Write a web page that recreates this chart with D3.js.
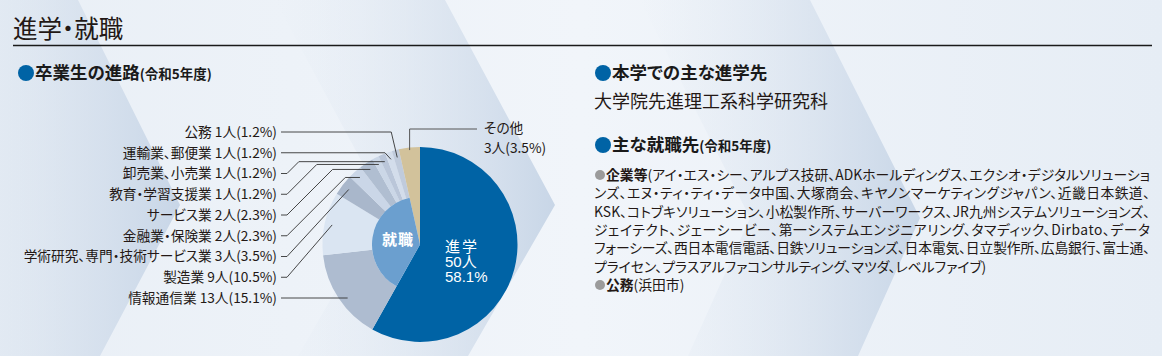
<!DOCTYPE html>
<html><head><meta charset="utf-8">
<script src="https://cdn.jsdelivr.net/npm/d3@7"></script>
<style>
html,body{margin:0;padding:0;background:#eef2f8;}
svg{display:block;}
text{font-family:"Noto Sans CJK JP",sans-serif;font-feature-settings:"palt";}
</style></head><body>
<svg id="c" width="1162" height="356"></svg>
<script>
// ---- data ----
const categories = ["進学","情報通信業","製造業","学術研究、専門・技術サービス業","金融業・保険業","サービス業","教育・学習支援業","卸売業、小売業","運輸業、郵便業","公務","その他"];
const counts = [50,13,9,3,2,2,1,1,1,1,3];
const percents = ["58.1","15.1","10.5","3.5","2.3","2.3","1.2","1.2","1.2","1.2","3.5"];
const groups = ["進学","就職","就職","就職","就職","就職","就職","就職","就職","就職","その他"];
const companyLines = [
 "(アイ・エス・シー、アルプス技研、ADKホールディングス、エクシオ・デジタルソリューショ",
 "ンズ、エヌ・ティ・ティ・データ中国、大塚商会、キヤノンマーケティングジャパン、近畿日本鉄道、",
 "KSK、コトブキソリューション、小松製作所、サーバーワークス、JR九州システムソリューションズ、",
 "ジェイテクト、ジェーシービー、第一システムエンジニアリング、タマディック、Dirbato、データ",
 "フォーシーズ、西日本電信電話、日鉄ソリューションズ、日本電気、日立製作所、広島銀行、富士通、",
 "プライセン、プラスアルファコンサルティング、マツダ、レベルファイブ)"
];
const sliceColors = ["#0063a5","#aebcd0","#dae5f2","#a9b7cb","#cad6e7","#b0bed1","#cbd7e7","#bac6d9","#d3ddeb","#c0cbdc","#d2c29b"];

const data = categories.map((c,i)=>({name:c,count:counts[i],pct:percents[i],group:groups[i],color:sliceColors[i]}));

const svg = d3.select("#c");
const defs = svg.append("defs");

// ---- background ----
const bg = defs.append("linearGradient").attr("id","bg").attr("x1",0).attr("x2",1).attr("y1",0).attr("y2",0);
bg.append("stop").attr("offset","0").attr("stop-color","#e9eff6");
bg.append("stop").attr("offset","0.5").attr("stop-color","#f1f5fa");
bg.append("stop").attr("offset","1").attr("stop-color","#e6edf5");
svg.append("rect").attr("width",1162).attr("height",356).attr("fill","url(#bg)");

const band = defs.append("linearGradient").attr("id","band").attr("x1",0).attr("x2",1).attr("y1",0).attr("y2",0);
band.append("stop").attr("offset","0").attr("stop-color","#dfe7f1").attr("stop-opacity",0);
band.append("stop").attr("offset","1").attr("stop-color","#c8d6e7").attr("stop-opacity",1);
const chevrons = [
  {top:78, apex:180, apexY:205, bot:100, w:190},
  {top:445, apex:555, apexY:205, bot:468, w:170},
  {top:810, apex:920, apexY:218, bot:858, w:170}
];
chevrons.forEach(c=>{
  const pts = [[c.top-c.w,0],[c.top,0],[c.apex,c.apexY],[c.bot,356],[c.bot-c.w,356],[c.apex-c.w,c.apexY]];
  svg.append("polygon").attr("points",pts.map(p=>p.join(",")).join(" ")).attr("fill","url(#band)");
});

// ---- title ----
svg.append("text").attr("x",13).attr("y",38).attr("font-size",24.5).attr("fill","#231815").text("進学・就職");
svg.append("line").attr("x1",13).attr("x2",1152).attr("y1",45.5).attr("y2",45.5).attr("stroke","#1a1a1a").attr("stroke-width",1.5);

function heading(x,y,main,sub){
  svg.append("circle").attr("cx",x).attr("cy",y).attr("r",8).attr("fill","#0063a5");
  const t = svg.append("text").attr("x",x+9).attr("y",y).attr("dy","0.36em").attr("fill","#1a1a1a").attr("font-weight","bold");
  t.append("tspan").attr("font-size",17.5).text(main);
  if(sub) t.append("tspan").attr("font-size",13.5).text(sub);
}
heading(26,73,"卒業生の進路","(令和5年度)");
heading(603,73,"本学での主な進学先",null);
svg.append("text").attr("x",594).attr("y",102).attr("dy","0.36em").attr("font-size",18).attr("fill","#231815").text("大学院先進理工系科学研究科");
heading(603,145,"主な就職先","(令和5年度)");

// company list
const fs = 13.8;
const lineY = d3.scaleLinear().domain([0,6]).range([175,285]);
svg.append("circle").attr("cx",600).attr("cy",lineY(0)).attr("r",5).attr("fill","#9b9b9b");
companyLines.forEach((s,i)=>{
  const t = svg.append("text").attr("x", i===0?606:594).attr("y",lineY(i)).attr("dy","0.36em").attr("font-size",fs).attr("fill","#231815");
  if(i===0){ t.append("tspan").attr("font-weight","bold").text("企業等"); }
  t.append("tspan").text(s);
  if(i<5) t.attr("textLength", i===0?544:556).attr("lengthAdjust","spacing");
});
svg.append("circle").attr("cx",600).attr("cy",lineY(6)).attr("r",5).attr("fill","#9b9b9b");
const tg = svg.append("text").attr("x",606).attr("y",lineY(6)).attr("dy","0.36em").attr("font-size",fs).attr("fill","#231815");
tg.append("tspan").attr("font-weight","bold").text("公務");
tg.append("tspan").text("(浜田市)");

// ---- pie ----
const cx=420, cy=244.5, R=97.5, rIn=48;
const pie = d3.pie().sort(null).value(d=>d.count).startAngle(0).endAngle(2*Math.PI);
const arcs = pie(data);
const arcGen = d3.arc();
const g = svg.append("g").attr("transform",`translate(${cx},${cy})`);
g.selectAll("path.slice").data(arcs).join("path").attr("class","slice")
  .attr("d",d=>arcGen({startAngle:d.startAngle,endAngle:d.endAngle,innerRadius:d.data.group==="就職"?rIn:0,outerRadius:R}))
  .attr("fill",d=>d.data.color);
const emp = arcs.filter(d=>d.data.group==="就職");
g.append("path").attr("d",arcGen({startAngle:d3.min(emp,d=>d.startAngle),endAngle:d3.max(emp,d=>d.endAngle),innerRadius:0,outerRadius:rIn})).attr("fill","#6b9fcf");

// inner texts
g.append("text").attr("x",-22).attr("y",-4.5).attr("dy","0.36em").attr("text-anchor","middle")
  .attr("font-size",15).attr("font-weight","bold").attr("fill","#fff").attr("letter-spacing",1).text("就職");
const adv = arcs[0];
const advT = g.append("text").attr("fill","#fff").attr("font-size",15).style("font-family",'"Liberation Sans","Noto Sans CJK JP",sans-serif');
advT.append("tspan").attr("x",25).attr("y",2.5).attr("dy","0.36em").attr("letter-spacing",2).text(adv.data.name);
advT.append("tspan").attr("x",25).attr("y",17.5).attr("dy","0.36em").text(adv.data.count+"人");
advT.append("tspan").attr("x",25).attr("y",32.5).attr("dy","0.36em").text(adv.data.pct+"%");

// ---- labels + leaders ----
const empOrder = emp.slice().reverse();
const ly = d3.scalePoint().domain(empOrder.map(d=>d.data.name)).range([132,298]);
const labelX = 277;
const pt = (a,r)=>[cx + r*Math.sin(a), cy - r*Math.cos(a)];
const rEnd = 90;
empOrder.forEach(d=>{
  const y = ly(d.data.name);
  svg.append("text").attr("x",labelX).attr("y",y).attr("dy","0.36em").attr("text-anchor","end")
    .attr("font-size",13.7).attr("fill","#231815").text(`${d.data.name} ${d.data.count}人(${d.data.pct}%)`);
  const mid = (d.startAngle+d.endAngle)/2;
  const P = pt(mid,rEnd);
  let pts;
  const dy0 = y-cy;
  let hx = null;
  if(Math.abs(dy0) < rEnd){
    const xx = -Math.sqrt(rEnd*rEnd-dy0*dy0);
    let ang = Math.atan2(xx,-dy0); if(ang<0) ang+=2*Math.PI;
    if(ang>=d.startAngle && ang<=d.endAngle) hx = cx+xx;
  }
  if(hx!==null){
    pts = [[labelX+4,y],[hx,y]];
  } else if(y < P[1]){
    pts = [[labelX+4,y],[P[0]-6,y],P];
  } else {
    const x1 = labelX+10, xd = x1 + (y-P[1]);
    pts = xd >= P[0] ? [[labelX+4,y],[x1,y],P] : [[labelX+4,y],[x1,y],[xd,P[1]],P];
  }
  svg.append("path").attr("d",d3.line()(pts)).attr("fill","none").attr("stroke","#333").attr("stroke-width",0.9);
});
// その他
const oth = arcs[10];
const Po = pt((oth.startAngle+oth.endAngle)/2, 95);
svg.append("path").attr("d",d3.line()([[477,129],[Po[0],129],Po])).attr("fill","none").attr("stroke","#555").attr("stroke-width",1);
svg.append("text").attr("x",484).attr("y",128).attr("dy","0.36em").attr("font-size",13.7).attr("fill","#231815").text(oth.data.name);
svg.append("text").attr("x",484).attr("y",148).attr("dy","0.36em").attr("font-size",13.7).attr("fill","#231815").text(`${oth.data.count}人(${oth.data.pct}%)`);
</script>
</body></html>
